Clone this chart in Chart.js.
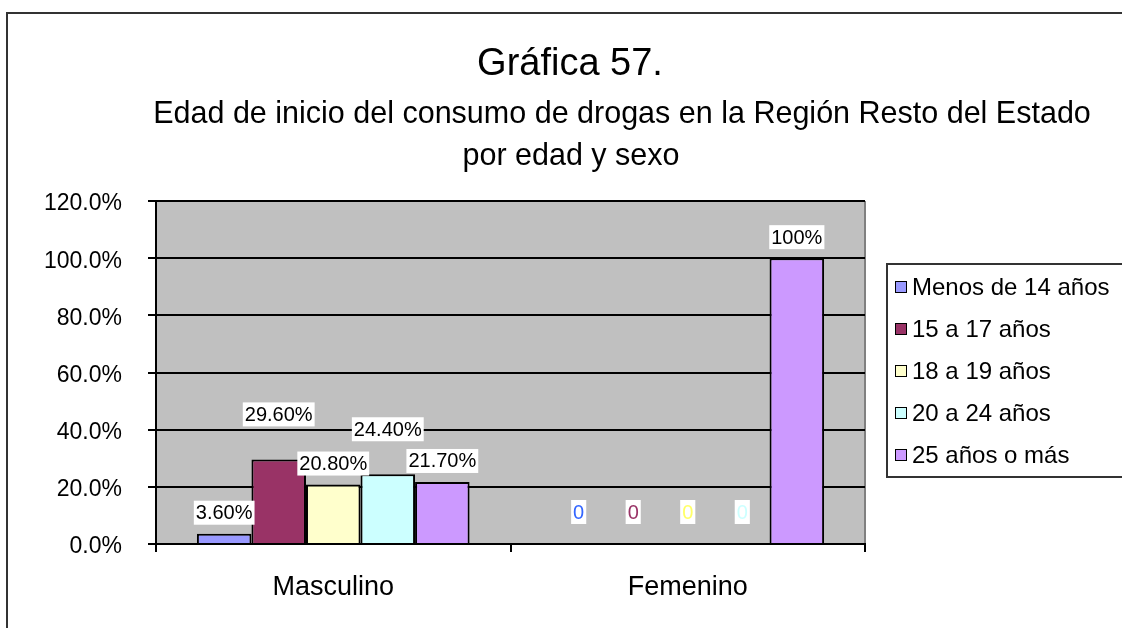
<!DOCTYPE html>
<html lang="es">
<head>
<meta charset="utf-8">
<title>Gráfica 57</title>
<script src="https://cdn.jsdelivr.net/npm/chart.js@4.4.1/dist/chart.umd.min.js"></script>
<style>
    html, body { margin: 0; padding: 0; background: #fff; }
    #wrap { width: 1122px; height: 628px; position: relative; }
</style>
</head>
<body>
<div id="wrap"><canvas id="grafica"></canvas></div>
<script>
// Datos
const sexos = ['Masculino', 'Femenino'];
const edades = ['Menos de 14 años', '15 a 17 años', '18 a 19 años', '20 a 24 años', '25 años o más'];
const menos14 = [3.6, 0];
const de15a17 = [29.6, 0];
const de18a19 = [20.8, 0];
const de20a24 = [24.4, 0];
const de25ymas = [21.7, 100];
const yTicks = [0, 20, 40, 60, 80, 100, 120];

const series = [menos14, de15a17, de18a19, de20a24, de25ymas];
const fills = ['#9999ff', '#993366', '#ffffcc', '#ccffff', '#cc99ff'];
const zeroInk = ['#3366ff', '#993366', '#ffff66', '#ccffff', '#cc99ff'];
const FONT = "'Liberation Sans', Arial, sans-serif";

function fmtLabel(v) {
    if (v === 0) return '0';
    return Number.isInteger(v) ? v + '%' : v.toFixed(2) + '%';
}

// Marco, fondo gris del area de trazado y titulos
const fondo = {
    id: 'fondo',
    beforeDraw(chart) {
        const { ctx, chartArea: a } = chart;
        ctx.save();
        ctx.fillStyle = '#c0c0c0';
        ctx.fillRect(a.left, a.top, a.right - a.left, a.bottom - a.top);
        ctx.strokeStyle = '#808080';
        ctx.lineWidth = 2;
        ctx.beginPath();
        ctx.moveTo(a.right, a.top);
        ctx.lineTo(a.right, a.bottom);
        ctx.stroke();

        ctx.strokeStyle = '#333';
        ctx.lineWidth = 2;
        ctx.strokeRect(7, 13, chart.width + 20, chart.height + 20);

        ctx.fillStyle = '#000';
        ctx.textAlign = 'center';
        ctx.textBaseline = 'middle';
        ctx.font = '38px ' + FONT;
        ctx.fillText('Gráfica 57.', 570, 65);
        ctx.font = '30.5px ' + FONT;
        ctx.fillText('Edad de inicio del consumo de drogas en la Región Resto del Estado', 622, 115);
        ctx.fillText('por edad y sexo', 571, 157);
        ctx.restore();
    }
};

// Etiquetas de valor con fondo blanco
const etiquetas = {
    id: 'etiquetas',
    afterDatasetsDraw(chart) {
        const { ctx } = chart;
        ctx.save();
        ctx.font = '20px ' + FONT;
        ctx.textAlign = 'center';
        ctx.textBaseline = 'middle';
        chart.data.datasets.forEach((ds, i) => {
            chart.getDatasetMeta(i).data.forEach((bar, j) => {
                const v = ds.data[j];
                const txt = fmtLabel(v);
                const w = ctx.measureText(txt).width + 4;
                let y;
                if (v === 0) y = bar.y - 32;
                else y = bar.y - (i % 2 ? 45 : 21);
                ctx.fillStyle = '#fff';
                ctx.fillRect(bar.x - w / 2, y - 12, w, 24);
                ctx.fillStyle = v === 0 ? zeroInk[i] : '#000';
                ctx.fillText(txt, bar.x, y + 1);
            });
        });
        ctx.restore();
    }
};

// Leyenda enmarcada a la derecha
const leyenda = {
    id: 'leyenda',
    afterDraw(chart) {
        const { ctx } = chart;
        ctx.save();
        ctx.strokeStyle = '#333';
        ctx.lineWidth = 2;
        ctx.strokeRect(887, 264, 260, 213);
        ctx.font = '24px ' + FONT;
        ctx.textAlign = 'left';
        ctx.textBaseline = 'middle';
        chart.data.datasets.forEach((ds, i) => {
            const y = 287 + i * 42;
            ctx.fillStyle = ds.backgroundColor;
            ctx.fillRect(895, y - 6, 11, 11);
            ctx.strokeStyle = '#000';
            ctx.lineWidth = 1;
            ctx.strokeRect(895.5, y - 5.5, 11, 11);
            ctx.fillStyle = '#000';
            ctx.fillText(ds.label, 912, y + 1);
        });
        ctx.restore();
    }
};

new Chart(document.getElementById('grafica'), {
    type: 'bar',
    data: {
        labels: sexos,
        datasets: series.map((d, i) => ({
            label: edades[i],
            data: d,
            backgroundColor: fills[i],
            borderColor: '#000',
            borderWidth: 2,
            categoryPercentage: 5 / 6.5,
            barPercentage: 1
        }))
    },
    options: {
        responsive: true,
        maintainAspectRatio: false,
        animation: false,
        layout: { padding: { top: 201, right: 257, left: 0, bottom: 0 } },
        plugins: {
            legend: { display: false },
            title: { display: false },
            tooltip: { enabled: false }
        },
        scales: {
            x: {
                afterFit(scale) { scale.height = 84; },
                grid: { display: true, drawOnChartArea: false, drawTicks: true, tickLength: 8, color: '#000', lineWidth: 2 },
                border: { display: true, color: '#000', width: 2 },
                ticks: { color: '#000', padding: 19, font: { family: FONT, size: 27 } }
            },
            y: {
                min: 0,
                max: 120,
                afterFit(scale) { scale.width = 156; },
                afterBuildTicks(scale) { scale.ticks = yTicks.map(v => ({ value: v })); },
                grid: { color: '#000', lineWidth: 2, tickLength: 8 },
                border: { display: true, color: '#000', width: 2 },
                ticks: {
                    color: '#000',
                    padding: 26,
                    labelOffset: 3,
                    font: { family: FONT, size: 23 },
                    callback: v => v.toFixed(1) + '%'
                }
            }
        }
    },
    plugins: [fondo, etiquetas, leyenda]
});
</script>
</body>
</html>
